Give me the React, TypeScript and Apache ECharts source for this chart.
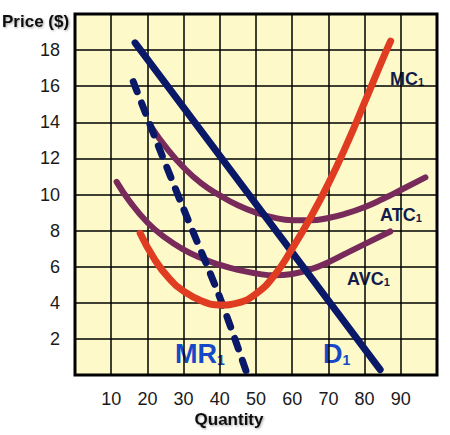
import React, { useEffect, useRef } from "react";
import * as echarts from "echarts";

const xTicks = [0, 10, 20, 30, 40, 50, 60, 70, 80, 90, 100];
const yTicks = [0, 2, 4, 6, 8, 10, 12, 14, 16, 18, 20];

const demandD1: number[][] = [
  [16.6, 18.4],
  [84.3, 0.3],
];
const marginalRevenueMR1: number[][] = [
  [16.1, 16.25],
  [23, 12.7],
  [30, 9.2],
  [40, 4.3],
  [47.3, 0.2],
];
const marginalCostMC1: number[][] = [
  [18, 7.85],
  [22, 6.4],
  [26, 5.35],
  [30, 4.65],
  [35, 4.1],
  [40, 3.88],
  [45, 4.0],
  [50, 4.5],
  [55, 5.5],
  [60, 7.0],
  [65, 8.7],
  [70, 10.6],
  [75, 12.75],
  [80, 15.1],
  [85, 17.5],
  [87.2, 18.5],
];
const avgTotalCostATC1: number[][] = [
  [21.2, 13.7],
  [25, 12.65],
  [30, 11.5],
  [35, 10.6],
  [40, 9.95],
  [45, 9.4],
  [50, 9.0],
  [55, 8.72],
  [60, 8.58],
  [65, 8.57],
  [70, 8.7],
  [75, 8.95],
  [80, 9.3],
  [85, 9.75],
  [90, 10.25],
  [96.8, 10.95],
];
const avgVariableCostAVC1: number[][] = [
  [11.5, 10.7],
  [15, 9.65],
  [20, 8.45],
  [25, 7.6],
  [30, 6.95],
  [35, 6.47],
  [40, 6.1],
  [45, 5.82],
  [50, 5.63],
  [55, 5.52],
  [60, 5.6],
  [65, 5.85],
  [70, 6.25],
  [75, 6.75],
  [80, 7.25],
  [87.1, 7.95],
];

const NAVY = "#0a1868";
const RED = "#e03c22";
const PURPLE = "#782a5a";
const LABEL_DARK = "#141c4a";
const LABEL_BLUE = "#1648c8";

function curveLabel(text: string, x: number, y: number, color: string, big: number, small: number) {
  return {
    type: "text",
    x,
    y,
    style: {
      text: `{a|${text}}{b|1}`,
      verticalAlign: "middle",
      rich: {
        a: {
          fontFamily: "Liberation Sans, Arial, sans-serif",
          fontWeight: "bold",
          fontSize: big,
          lineHeight: big,
          verticalAlign: "bottom",
          fill: color,
          color,
        },
        b: {
          fontFamily: "Liberation Sans, Arial, sans-serif",
          fontWeight: "bold",
          fontSize: small,
          lineHeight: small,
          verticalAlign: "bottom",
          padding: [0, 0, 1, 0],
          fill: color,
          color,
        },
      },
    },
  };
}

export default function App() {
  const ref = useRef<HTMLDivElement>(null);
  useEffect(() => {
    if (!ref.current) return;
    const chart = echarts.init(ref.current, null, { renderer: "svg" });
    const lineCommon = {
      type: "line",
      showSymbol: false,
      symbol: "none",
      silent: true,
    };
    chart.setOption({
      animation: false,
      backgroundColor: "#ffffff",
      grid: {
        left: 75,
        right: 13,
        top: 14,
        bottom: 60,
        show: true,
        backgroundColor: "#fdf9c9",
        borderColor: "#000",
        borderWidth: 3,
      },
      xAxis: {
        type: "value",
        min: xTicks[0],
        max: xTicks[xTicks.length - 1],
        interval: 10,
        axisLine: { show: false },
        axisTick: { show: false },
        splitLine: { show: true, lineStyle: { color: "#000", width: 1.5 } },
        axisLabel: {
          margin: 15,
          fontSize: 18,
          color: "#1a1a1a",
          fontFamily: "Liberation Sans, Arial, sans-serif",
          formatter: (v: number) => (v === xTicks[0] || v === xTicks[xTicks.length - 1] ? "" : String(v)),
        },
      },
      yAxis: {
        type: "value",
        min: yTicks[0],
        max: yTicks[yTicks.length - 1],
        interval: 2,
        axisLine: { show: false },
        axisTick: { show: false },
        splitLine: { show: true, lineStyle: { color: "#000", width: 1.5 } },
        axisLabel: {
          margin: 15,
          fontSize: 18,
          color: "#1a1a1a",
          fontFamily: "Liberation Sans, Arial, sans-serif",
          formatter: (v: number) => (v === yTicks[0] || v === yTicks[yTicks.length - 1] ? "" : String(v)),
        },
      },
      series: [
        {
          ...lineCommon,
          name: "ATC1",
          data: avgTotalCostATC1,
          smooth: 0.5,
          lineStyle: { color: PURPLE, width: 6, cap: "round" },
        },
        {
          ...lineCommon,
          name: "AVC1",
          data: avgVariableCostAVC1,
          smooth: 0.5,
          lineStyle: { color: PURPLE, width: 6, cap: "round" },
        },
        {
          ...lineCommon,
          name: "MR1",
          data: marginalRevenueMR1,
          smooth: 0.3,
          lineStyle: { color: NAVY, width: 7, type: [11, 12], cap: "round" },
        },
        {
          ...lineCommon,
          name: "D1",
          data: demandD1,
          lineStyle: { color: NAVY, width: 7, cap: "round" },
        },
        {
          ...lineCommon,
          name: "MC1",
          data: marginalCostMC1,
          smooth: 0.5,
          lineStyle: { color: RED, width: 7, cap: "round" },
        },
      ],
      graphic: [
        {
          type: "text",
          x: 2,
          y: 21,
          style: {
            text: "Price ($)",
            fontFamily: "Liberation Sans, Arial, sans-serif",
            fontWeight: "bold",
            fontSize: 17,
            fill: "#111",
            verticalAlign: "middle",
            textShadowColor: "rgba(0,0,0,0.35)",
            textShadowBlur: 2,
            textShadowOffsetX: 1,
            textShadowOffsetY: 1,
          },
        },
        {
          type: "text",
          x: 229,
          y: 419,
          style: {
            text: "Quantity",
            fontFamily: "Liberation Sans, Arial, sans-serif",
            fontWeight: "bold",
            fontSize: 17,
            fill: "#111",
            align: "center",
            verticalAlign: "middle",
            textShadowColor: "rgba(0,0,0,0.35)",
            textShadowBlur: 2,
            textShadowOffsetX: 1,
            textShadowOffsetY: 1,
          },
        },
        curveLabel("MC", 390, 79, LABEL_DARK, 18, 11),
        curveLabel("ATC", 380, 215, LABEL_DARK, 18, 11),
        curveLabel("AVC", 347, 279, LABEL_DARK, 18, 11),
        curveLabel("MR", 175, 354, LABEL_BLUE, 27, 14),
        curveLabel("D", 323, 354, LABEL_BLUE, 27, 14),
      ],
    });
    return () => chart.dispose();
  }, []);
  return <div ref={ref} style={{ width: 450, height: 435, position: "absolute", left: 0, top: 0 }} />;
}
